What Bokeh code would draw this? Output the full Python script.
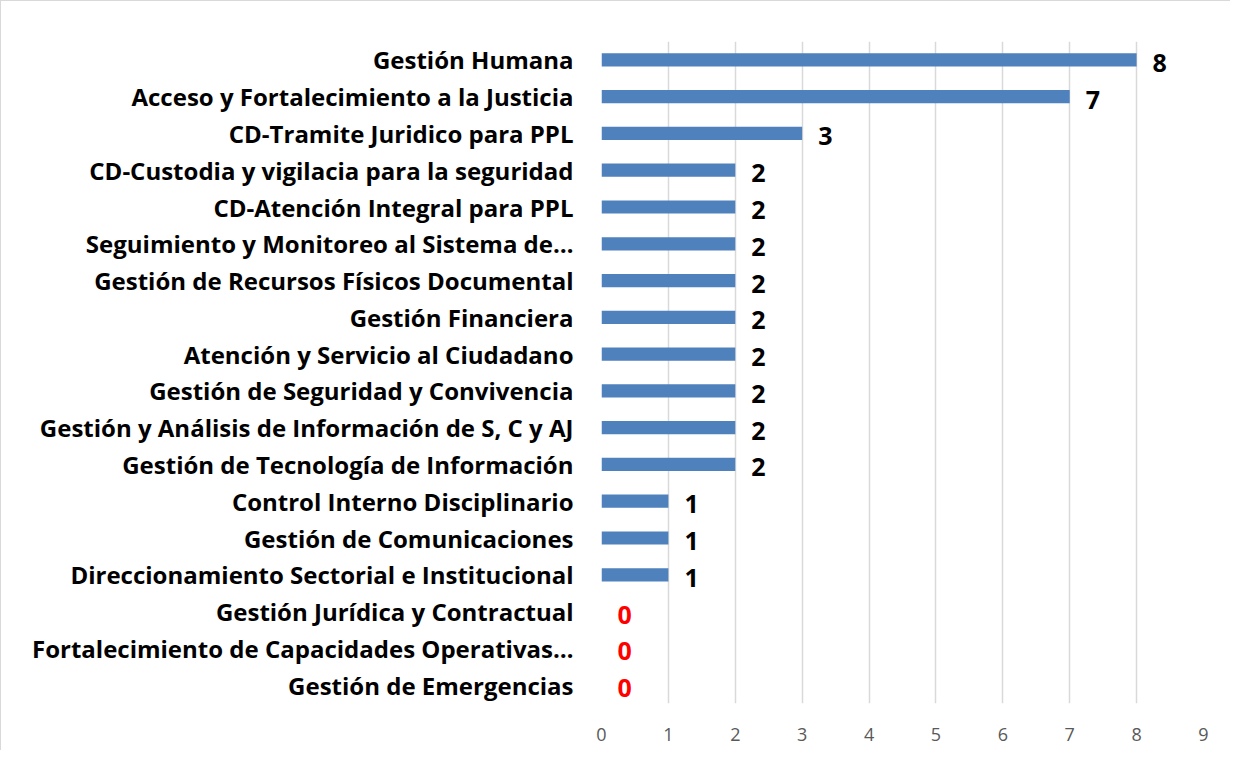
from bokeh.plotting import figure
from bokeh.models import ColumnDataSource, FactorRange, Range1d, FixedTicker, LabelSet
from bokeh.embed import file_html
from bokeh.resources import INLINE
from bokeh.core.properties import value

categories = [
    "Gestión Humana",
    "Acceso y Fortalecimiento a la Justicia",
    "CD-Tramite Juridico para PPL",
    "CD-Custodia y vigilacia para la seguridad",
    "CD-Atención Integral para PPL",
    "Seguimiento y Monitoreo al Sistema de…",
    "Gestión de Recursos Físicos Documental",
    "Gestión Financiera",
    "Atención y Servicio al Ciudadano",
    "Gestión de Seguridad y Convivencia",
    "Gestión y Análisis de Información de S, C y AJ",
    "Gestión de Tecnología de Información",
    "Control Interno Disciplinario",
    "Gestión de Comunicaciones",
    "Direccionamiento Sectorial e Institucional",
    "Gestión Jurídica y Contractual",
    "Fortalecimiento de Capacidades Operativas…",
    "Gestión de Emergencias",
]
values = [8, 7, 3, 2, 2, 2, 2, 2, 2, 2, 2, 2, 1, 1, 1, 0, 0, 0]
x_ticks = [0, 1, 2, 3, 4, 5, 6, 7, 8, 9]

FONT = "Open Sans"

label_colors = ["#ff0000" if v == 0 else "#000000" for v in values]
src = ColumnDataSource(dict(cat=categories, val=values,
                            txt=[str(v) for v in values], col=label_colors))

p = figure(width=1230, height=750, output_backend="svg", toolbar_location=None,
           y_range=FactorRange(*reversed(categories)), x_range=Range1d(0, 9),
           min_border_left=600, min_border_right=28, min_border_top=40, min_border_bottom=48)
p.styles = {"border-left": "1px solid #d9d9d9", "border-top": "1px solid #d9d9d9"}

p.hbar(y="cat", right="val", left=0, height=0.36, source=src,
       fill_color="#4f81bd", line_color=None)

labels = LabelSet(x="val", y="cat", text="txt", source=src, x_offset=16, y_offset=-3,
                  text_color="col", text_font=value(FONT), text_font_style="bold",
                  text_font_size="25px", text_baseline="middle", text_align="left")
p.add_layout(labels)

p.outline_line_color = None
p.ygrid.grid_line_color = None
p.xgrid.grid_line_color = "#d9d9d9"
p.xgrid.grid_line_width = 1.5

p.xaxis.ticker = FixedTicker(ticks=x_ticks)
p.xaxis.axis_line_color = None
p.xaxis.major_tick_line_color = None
p.xaxis.minor_tick_line_color = None
p.xaxis.major_label_text_font = FONT
p.xaxis.major_label_text_font_size = "18px"
p.xaxis.major_label_text_color = "#595959"
p.xaxis.major_label_standoff = 18

p.yaxis.axis_line_color = None
p.yaxis.major_tick_line_color = None
p.yaxis.minor_tick_line_color = None
p.yaxis.major_tick_out = 0
p.yaxis.major_label_text_font = FONT
p.yaxis.major_label_text_font_style = "bold"
p.yaxis.major_label_text_font_size = "24px"
p.yaxis.major_label_text_color = "#000000"
p.yaxis.major_label_standoff = 28

open("out.html", "w").write(file_html(p, INLINE))
